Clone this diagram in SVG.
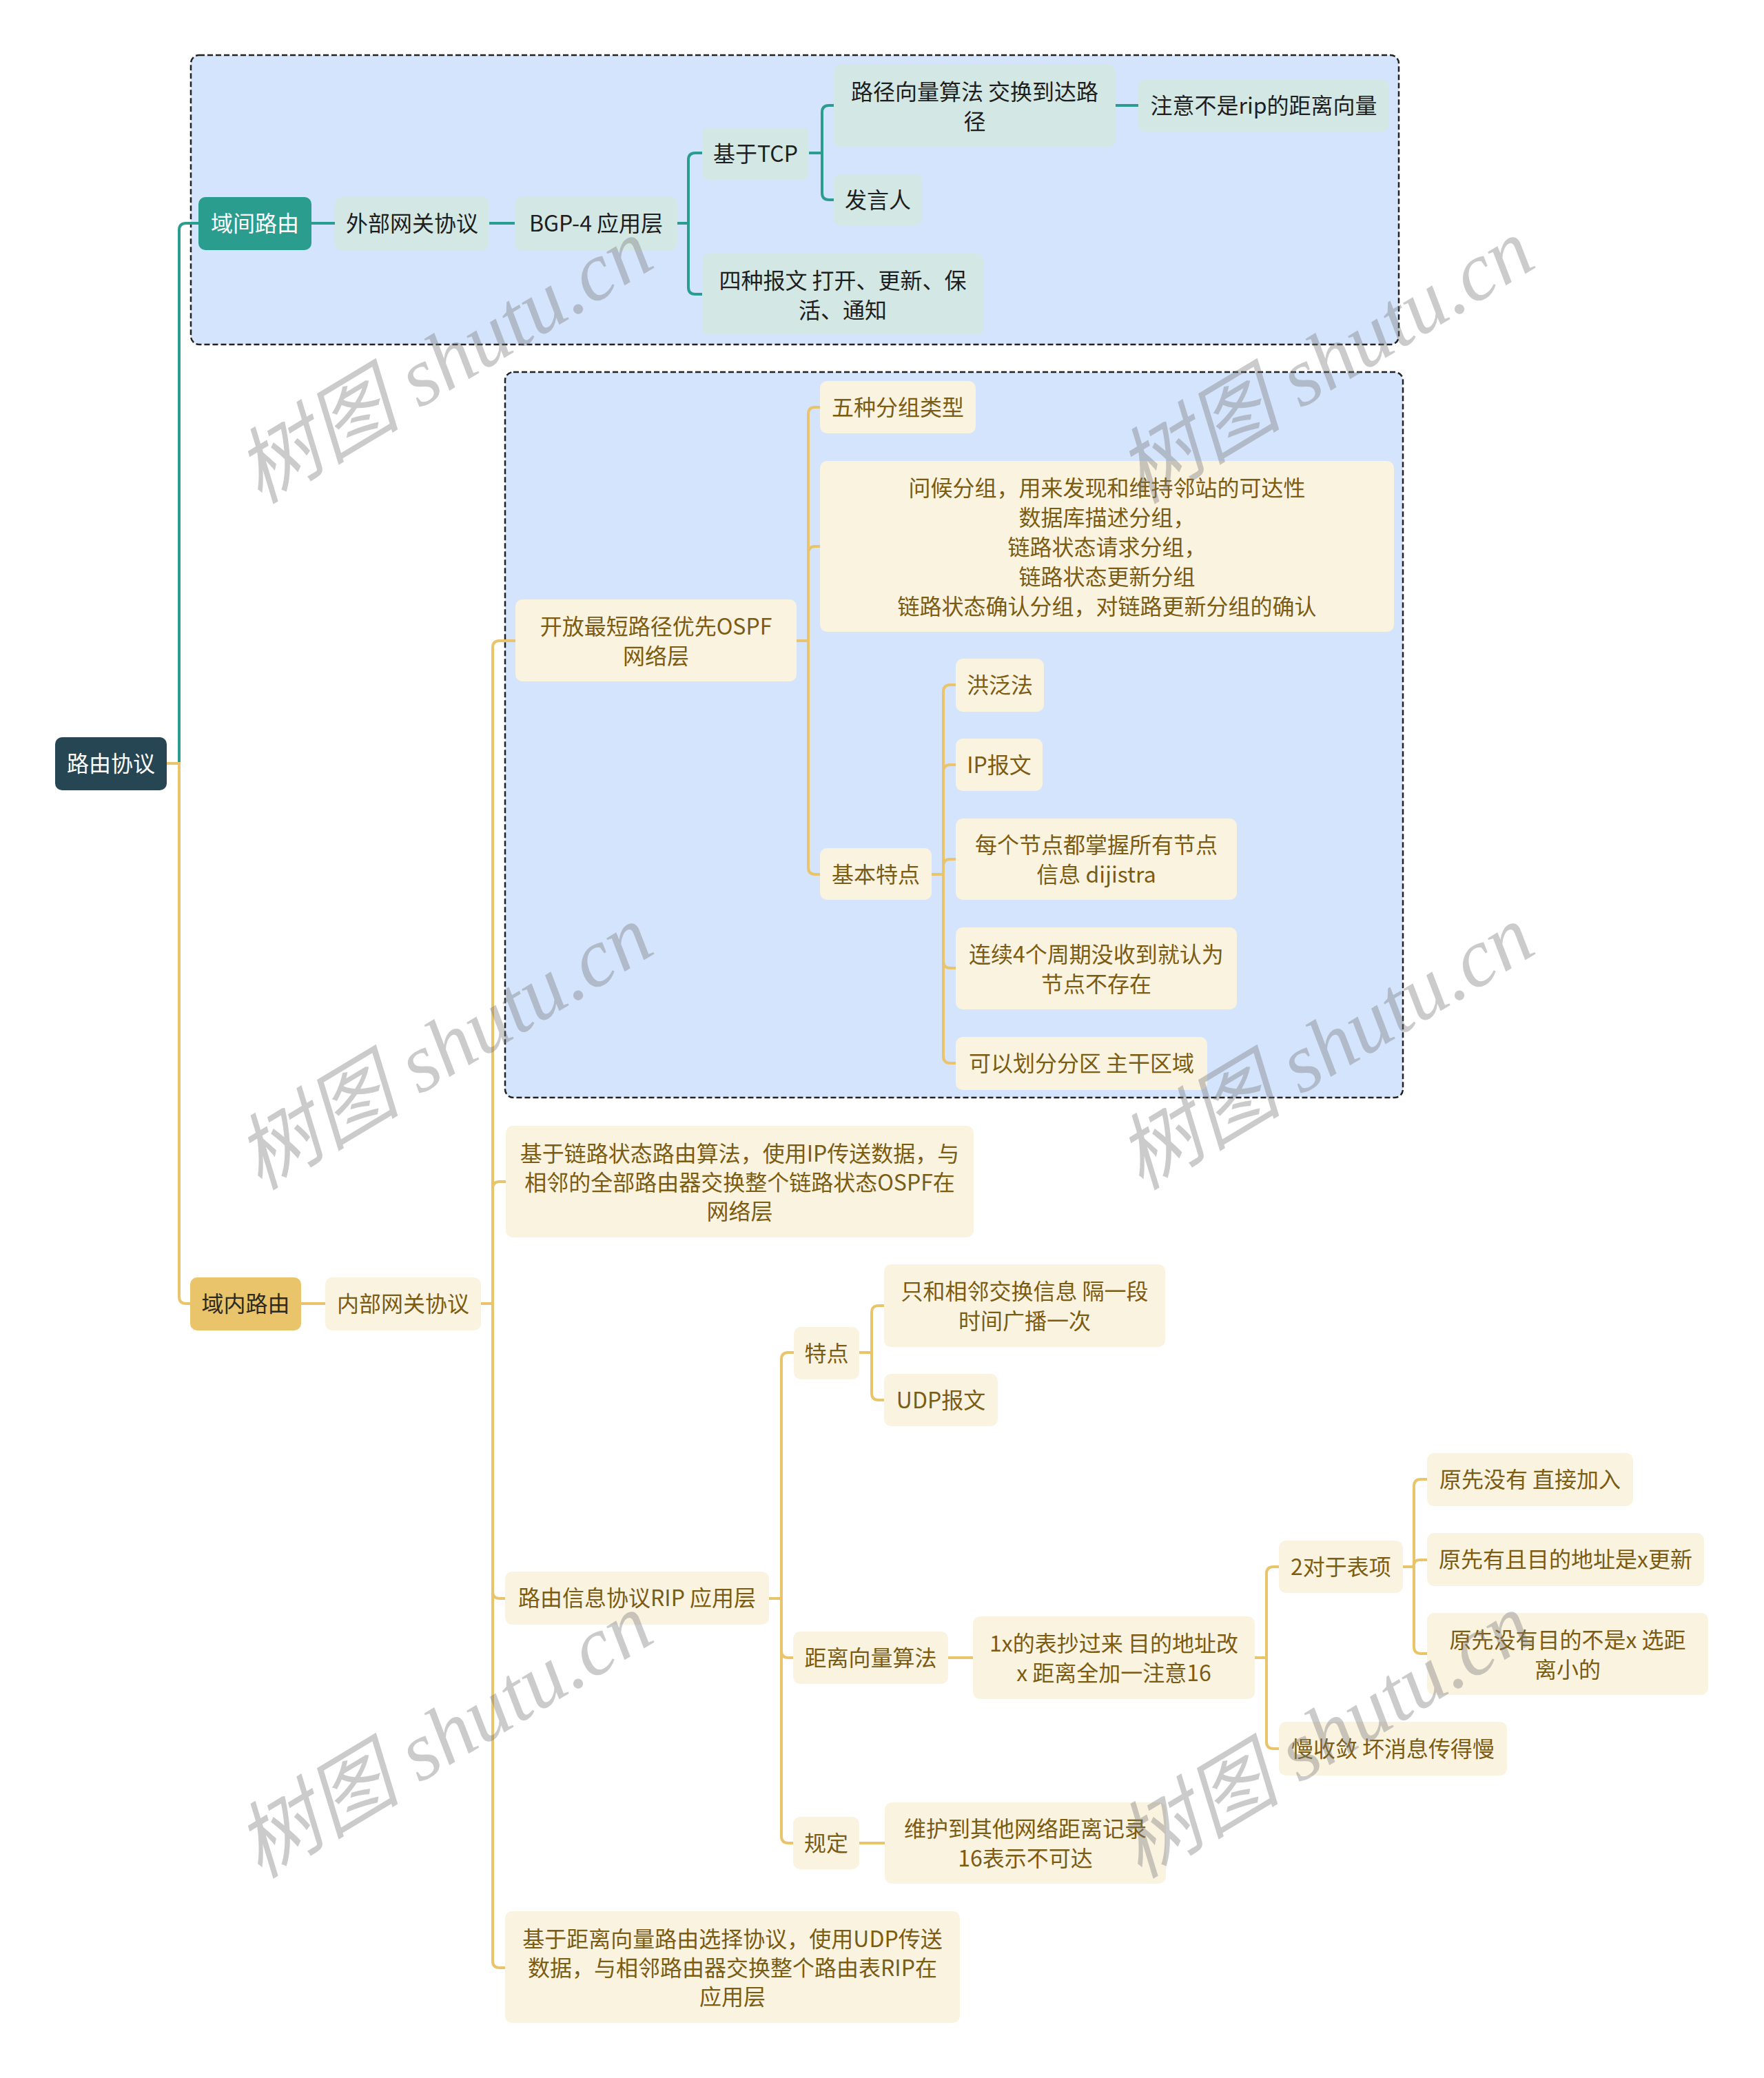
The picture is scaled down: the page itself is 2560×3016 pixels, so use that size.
<svg xmlns="http://www.w3.org/2000/svg" width="2560" height="3016" viewBox="0 0 2560 3016">
<style>
text{font-family:"Noto Sans CJK SC","Noto Sans",sans-serif;font-size:32px;text-anchor:middle}
.grp{fill:#d4e4fc;stroke:#222;stroke-width:2.5;stroke-dasharray:8 4}
.root rect{fill:#264653}
.l1t rect{fill:#2a9d8f}
.l1y rect{fill:#e9c46a}
.tn rect{fill:#d3e8e4}
.yn rect{fill:#faf3e0}
.root text,.l1t text{fill:#ffffff}
.l1y text{fill:#2e2a20}
.tn text{fill:#1e1e1e}
.yn text{fill:#7b5c12}
.ct{fill:none;stroke:#2a9d8f;stroke-width:4}
.cy{fill:none;stroke:#e9c46a;stroke-width:4}
.wm{font-family:"Liberation Serif","Noto Sans CJK SC",serif;font-style:italic;font-size:120px;fill:#787878;opacity:0.38}
</style>
<rect width="2560" height="3016" fill="#ffffff"/>
<g id="groups">
<rect class="grp" x="277" y="80" width="1753" height="420" rx="12"/>
<rect class="grp" x="733" y="540" width="1303" height="1053" rx="12"/>
</g>
<g id="connectors">
<path class="ct" d="M242,1108 H260 V334 Q260,324 270,324 H288"/>
<path class="ct" d="M452,324 H486"/>
<path class="ct" d="M710,324 H747"/>
<path class="ct" d="M983,324 H999 V232 Q999,222 1009,222 H1019"/>
<path class="ct" d="M983,324 H999 V417 Q999,427 1009,427 H1019"/>
<path class="ct" d="M1174,222 H1193 V163 Q1193,153 1203,153 H1210"/>
<path class="ct" d="M1174,222 H1193 V280 Q1193,290 1203,290 H1210"/>
<path class="ct" d="M1619,153 H1652"/>
<path class="cy" d="M242,1108 H260 V1882 Q260,1892 270,1892 H276"/>
<path class="cy" d="M437,1892 H472"/>
<path class="cy" d="M698,1892 H715 V940 Q715,930 725,930 H748"/>
<path class="cy" d="M698,1892 H715 V1725 Q715,1715 725,1715 H734"/>
<path class="cy" d="M698,1892 H715 V2310 Q715,2320 725,2320 H733"/>
<path class="cy" d="M698,1892 H715 V2846 Q715,2856 725,2856 H733"/>
<path class="cy" d="M1156,930 H1173 V601 Q1173,591 1183,591 H1190"/>
<path class="cy" d="M1156,930 H1173 V803 Q1173,793 1183,793 H1190"/>
<path class="cy" d="M1156,930 H1173 V1259 Q1173,1269 1183,1269 H1190"/>
<path class="cy" d="M1352,1269 H1369 V1004 Q1369,994 1379,994 H1387"/>
<path class="cy" d="M1352,1269 H1369 V1120 Q1369,1110 1379,1110 H1387"/>
<path class="cy" d="M1352,1269 H1369 V1257 Q1369,1247 1379,1247 H1387"/>
<path class="cy" d="M1352,1269 H1369 V1395 Q1369,1405 1379,1405 H1387"/>
<path class="cy" d="M1352,1269 H1369 V1533 Q1369,1543 1379,1543 H1387"/>
<path class="cy" d="M1116,2320 H1134 V1973 Q1134,1963 1144,1963 H1152"/>
<path class="cy" d="M1116,2320 H1134 V2396 Q1134,2406 1144,2406 H1151"/>
<path class="cy" d="M1116,2320 H1134 V2665 Q1134,2675 1144,2675 H1151"/>
<path class="cy" d="M1247,1963 H1265 V1905 Q1265,1895 1275,1895 H1283"/>
<path class="cy" d="M1247,1963 H1265 V2022 Q1265,2032 1275,2032 H1283"/>
<path class="cy" d="M1376,2406 H1412"/>
<path class="cy" d="M1247,2675 H1284"/>
<path class="cy" d="M1821,2406 H1838 V2284 Q1838,2274 1848,2274 H1856"/>
<path class="cy" d="M1821,2406 H1838 V2528 Q1838,2538 1848,2538 H1856"/>
<path class="cy" d="M2036,2274 H2052 V2157 Q2052,2147 2062,2147 H2071"/>
<path class="cy" d="M2036,2274 H2052 V2272 Q2052,2264 2060,2264 H2071"/>
<path class="cy" d="M2036,2274 H2052 V2390 Q2052,2400 2062,2400 H2071"/>
</g>
<g id="nodes">
<g id="n-root" class="root"><rect x="80" y="1070" width="162" height="77" rx="10"/><text x="161" y="1120">路由协议</text></g>
<g id="n-inter" class="l1t"><rect x="288" y="286" width="164" height="77" rx="10"/><text x="370" y="336">域间路由</text></g>
<g id="n-egp" class="tn"><rect x="486" y="286" width="224" height="77" rx="10"/><text x="598" y="336">外部网关协议</text></g>
<g id="n-bgp" class="tn"><rect x="747" y="286" width="236" height="77" rx="10"/><text x="865" y="336">BGP-4 应用层</text></g>
<g id="n-tcp" class="tn"><rect x="1019" y="185" width="155" height="76" rx="10"/><text x="1096.5" y="235">基于TCP</text></g>
<g id="n-pathvec" class="tn"><rect x="1210" y="94" width="409" height="119" rx="10"/><text x="1414.5" y="145">路径向量算法 交换到达路</text><text x="1414.5" y="188">径</text></g>
<g id="n-note" class="tn"><rect x="1652" y="116" width="364" height="75" rx="10"/><text x="1834" y="165">注意不是rip的距离向量</text></g>
<g id="n-speaker" class="tn"><rect x="1210" y="253" width="128" height="74" rx="10"/><text x="1274" y="302">发言人</text></g>
<g id="n-4msg" class="tn"><rect x="1019" y="368" width="408" height="118" rx="10"/><text x="1223" y="419">四种报文 打开、更新、保</text><text x="1223" y="462">活、通知</text></g>
<g id="n-intra" class="l1y"><rect x="276" y="1854" width="161" height="77" rx="10"/><text x="356.5" y="1904">域内路由</text></g>
<g id="n-igp" class="yn"><rect x="472" y="1854" width="226" height="77" rx="10"/><text x="585" y="1904">内部网关协议</text></g>
<g id="n-ospf" class="yn"><rect x="748" y="870" width="408" height="119" rx="10"/><text x="952" y="921">开放最短路径优先OSPF</text><text x="952" y="964">网络层</text></g>
<g id="n-5types" class="yn"><rect x="1190" y="553" width="226" height="76" rx="10"/><text x="1303" y="603">五种分组类型</text></g>
<g id="n-types" class="yn"><rect x="1190" y="669" width="833" height="248" rx="10"/><text x="1606.5" y="720">问候分组，用来发现和维持邻站的可达性</text><text x="1606.5" y="763">数据库描述分组，</text><text x="1606.5" y="806">链路状态请求分组，</text><text x="1606.5" y="849">链路状态更新分组</text><text x="1606.5" y="892">链路状态确认分组，对链路更新分组的确认</text></g>
<g id="n-basic" class="yn"><rect x="1190" y="1231" width="162" height="75" rx="10"/><text x="1271" y="1281">基本特点</text></g>
<g id="n-flood" class="yn"><rect x="1387" y="956" width="128" height="77" rx="10"/><text x="1451" y="1006">洪泛法</text></g>
<g id="n-ipmsg" class="yn"><rect x="1387" y="1072" width="126" height="76" rx="10"/><text x="1450" y="1122">IP报文</text></g>
<g id="n-every" class="yn"><rect x="1387" y="1188" width="408" height="118" rx="10"/><text x="1591" y="1238">每个节点都掌握所有节点</text><text x="1591" y="1281">信息 dijistra</text></g>
<g id="n-4cycle" class="yn"><rect x="1387" y="1346" width="408" height="119" rx="10"/><text x="1591" y="1397">连续4个周期没收到就认为</text><text x="1591" y="1440">节点不存在</text></g>
<g id="n-area" class="yn"><rect x="1387" y="1505" width="365" height="77" rx="10"/><text x="1569.5" y="1555">可以划分分区 主干区域</text></g>
<g id="n-lsdesc" class="yn"><rect x="734" y="1634" width="679" height="162" rx="10"/><text x="1073.5" y="1686">基于链路状态路由算法，使用IP传送数据，与</text><text x="1073.5" y="1728">相邻的全部路由器交换整个链路状态OSPF在</text><text x="1073.5" y="1770">网络层</text></g>
<g id="n-rip" class="yn"><rect x="733" y="2281" width="383" height="77" rx="10"/><text x="924.5" y="2331">路由信息协议RIP 应用层</text></g>
<g id="n-feat" class="yn"><rect x="1152" y="1926" width="95" height="76" rx="10"/><text x="1199.5" y="1976">特点</text></g>
<g id="n-neighbor" class="yn"><rect x="1283" y="1835" width="408" height="120" rx="10"/><text x="1487" y="1886">只和相邻交换信息 隔一段</text><text x="1487" y="1929">时间广播一次</text></g>
<g id="n-udp" class="yn"><rect x="1283" y="1994" width="165" height="76" rx="10"/><text x="1365.5" y="2044">UDP报文</text></g>
<g id="n-dv" class="yn"><rect x="1151" y="2368" width="225" height="76" rx="10"/><text x="1263.5" y="2418">距离向量算法</text></g>
<g id="n-rule" class="yn"><rect x="1151" y="2637" width="96" height="76" rx="10"/><text x="1199" y="2687">规定</text></g>
<g id="n-keep" class="yn"><rect x="1284" y="2616" width="408" height="118" rx="10"/><text x="1488" y="2666">维护到其他网络距离记录</text><text x="1488" y="2709">16表示不可达</text></g>
<g id="n-copy" class="yn"><rect x="1412" y="2346" width="409" height="120" rx="10"/><text x="1616.5" y="2397">1x的表抄过来 目的地址改</text><text x="1616.5" y="2440">x 距离全加一注意16</text></g>
<g id="n-entry" class="yn"><rect x="1856" y="2236" width="180" height="76" rx="10"/><text x="1946" y="2286">2对于表项</text></g>
<g id="n-slow" class="yn"><rect x="1856" y="2499" width="331" height="78" rx="10"/><text x="2021.5" y="2550">慢收敛 坏消息传得慢</text></g>
<g id="n-add" class="yn"><rect x="2071" y="2109" width="299" height="77" rx="10"/><text x="2220.5" y="2159">原先没有 直接加入</text></g>
<g id="n-update" class="yn"><rect x="2071" y="2225" width="402" height="77" rx="10"/><text x="2272" y="2275">原先有且目的地址是x更新</text></g>
<g id="n-choose" class="yn"><rect x="2071" y="2341" width="408" height="119" rx="10"/><text x="2275" y="2392">原先没有目的不是x 选距</text><text x="2275" y="2435">离小的</text></g>
<g id="n-dvdesc" class="yn"><rect x="733" y="2774" width="660" height="162" rx="10"/><text x="1063" y="2826">基于距离向量路由选择协议，使用UDP传送</text><text x="1063" y="2868">数据，与相邻路由器交换整个路由表RIP在</text><text x="1063" y="2910">应用层</text></g>
</g>
<g id="watermarks">
<text class="wm" transform="translate(644,523) rotate(-31)" dy="0.35em">树图 shutu.cn</text>
<text class="wm" transform="translate(1923,523) rotate(-31)" dy="0.35em">树图 shutu.cn</text>
<text class="wm" transform="translate(644,1519) rotate(-31)" dy="0.35em">树图 shutu.cn</text>
<text class="wm" transform="translate(1923,1519) rotate(-31)" dy="0.35em">树图 shutu.cn</text>
<text class="wm" transform="translate(644,2518) rotate(-31)" dy="0.35em">树图 shutu.cn</text>
<text class="wm" transform="translate(1921,2518) rotate(-31)" dy="0.35em">树图 shutu.cn</text>
</g>
</svg>
